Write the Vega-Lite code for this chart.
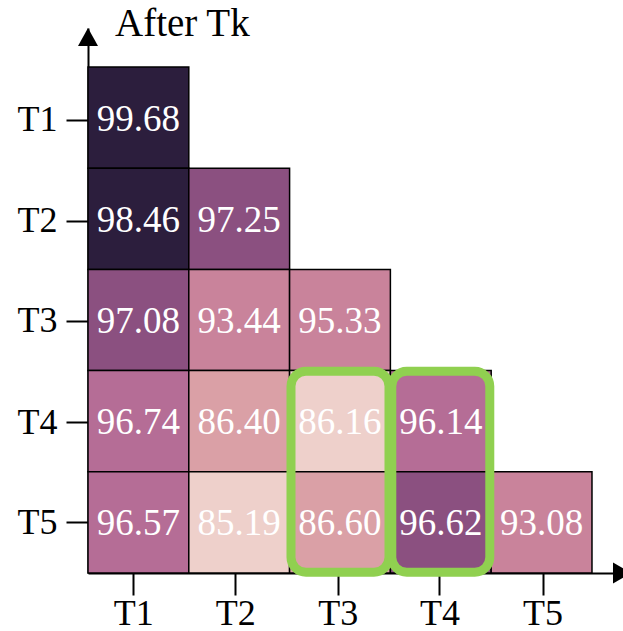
{
  "$schema": "https://vega.github.io/schema/vega-lite/v6.json",
  "width": 532,
  "height": 545,
  "autosize": "none",
  "padding": {"left": 88, "top": 28, "right": 3, "bottom": 58},
  "background": "white",
  "config": {"view": {"stroke": null}, "font": "Liberation Serif", "text": {"font": "Liberation Serif"}},
  "datasets": {
    "cells": [
      {"after": 1, "task": 1, "value": "99.68", "level": 1},
      {"after": 1, "task": 2, "value": "98.46", "level": 1},
      {"after": 1, "task": 3, "value": "97.08", "level": 2},
      {"after": 1, "task": 4, "value": "96.74", "level": 3},
      {"after": 1, "task": 5, "value": "96.57", "level": 3},
      {"after": 2, "task": 2, "value": "97.25", "level": 2},
      {"after": 2, "task": 3, "value": "93.44", "level": 4},
      {"after": 2, "task": 4, "value": "86.40", "level": 5},
      {"after": 2, "task": 5, "value": "85.19", "level": 6},
      {"after": 3, "task": 3, "value": "95.33", "level": 4},
      {"after": 3, "task": 4, "value": "86.16", "level": 6},
      {"after": 3, "task": 5, "value": "86.60", "level": 5},
      {"after": 4, "task": 4, "value": "96.14", "level": 3},
      {"after": 4, "task": 5, "value": "96.62", "level": 2},
      {"after": 5, "task": 5, "value": "93.08", "level": 4}
    ],
    "highlight": [
      {"after": 3, "task": 4.5},
      {"after": 4, "task": 4.5}
    ]
  },
  "encoding": {
    "x": {"field": "after", "type": "quantitative", "scale": {"domain": [0.5, 5.778], "nice": false, "zero": false},
      "axis": {"values": [0.95, 1.962, 2.978, 3.987, 5.01], "labelExpr": "'T' + round(datum.value)", "title": null, "grid": false, "tickSize": 22, "tickWidth": 2, "tickColor": "black", "domainColor": "black", "domainWidth": 2, "labelFont": "Liberation Serif", "labelFontSize": 36, "labelColor": "black", "labelPadding": 1, "labelFlush": false, "labelOverlap": false}},
    "y": {"field": "task", "type": "quantitative", "scale": {"domain": [0.115, 5.5], "reverse": true, "nice": false, "zero": false},
      "axis": {"values": [1.02, 2.02, 3.01, 4.01, 5], "labelExpr": "'T' + round(datum.value)", "title": null, "grid": false, "tickSize": 22, "tickWidth": 2, "tickColor": "black", "domainColor": "black", "domainWidth": 2, "labelFont": "Liberation Serif", "labelFontSize": 36, "labelColor": "black", "labelPadding": 9, "labelFlush": false, "labelOverlap": false}}
  },
  "layer": [
    {
      "data": {"name": "cells"},
      "mark": {"type": "rect", "width": 100.8, "height": 101.2, "stroke": "black", "strokeWidth": 1.5},
      "encoding": {
        "color": {"field": "level", "type": "ordinal", "legend": null,
          "scale": {"domain": [1, 2, 3, 4, 5, 6], "range": ["#2c1e3d", "#8b5080", "#b56d96", "#c9839b", "#daa0a6", "#eed0cb"]}}
      }
    },
    {
      "data": {"name": "highlight"},
      "mark": {"type": "rect", "width": 98, "height": 201, "cornerRadius": 15, "fill": null, "filled": false, "stroke": "#90d050", "strokeWidth": 9},
      "encoding": {}
    },
    {
      "data": {"name": "cells"},
      "mark": {"type": "text", "font": "Liberation Serif", "fontSize": 37, "color": "white", "align": "center", "baseline": "middle", "dy": 2},
      "encoding": {"text": {"field": "value", "type": "nominal"}}
    },
    {
      "data": {"values": [{"after": 0.768, "task": 0.19, "label": "After Tk"}]},
      "mark": {"type": "text", "font": "Liberation Serif", "fontSize": 39, "color": "black", "align": "left", "baseline": "alphabetic"},
      "encoding": {"text": {"field": "label", "type": "nominal"}}
    },
    {
      "data": {"values": [{"after": 0.5, "task": 0.115}]},
      "mark": {"type": "point", "shape": "M0,0 L-1,1.8 L1,1.8 Z", "size": 400, "filled": true, "fill": "black", "strokeWidth": 0, "opacity": 1},
      "encoding": {}
    },
    {
      "data": {"values": [{"after": 5.887, "task": 5.5}]},
      "mark": {"type": "point", "shape": "M0,0 L-1.8,-1.05 L-1.8,1.05 Z", "size": 400, "filled": true, "fill": "black", "strokeWidth": 0, "opacity": 1},
      "encoding": {}
    }
  ]
}
